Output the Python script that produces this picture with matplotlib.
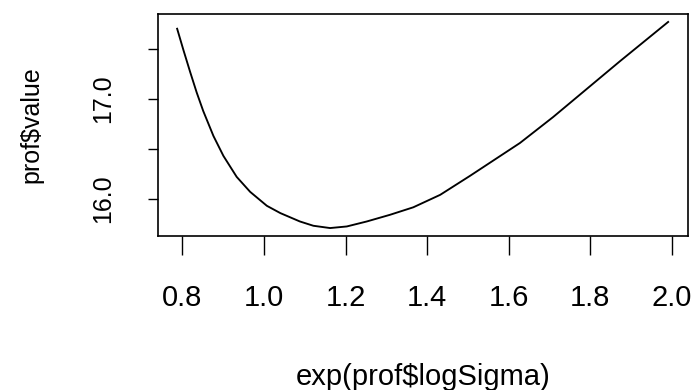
import matplotlib.pyplot as plt
import numpy as np

# profile curve (x = exp(logSigma), y = value)
sigma = [0.787, 0.8025, 0.819, 0.835, 0.851, 0.876, 0.9005, 0.933, 0.966,
         1.007, 1.04, 1.088, 1.121, 1.162, 1.203, 1.252, 1.309, 1.366,
         1.432, 1.505, 1.6277, 1.709, 1.791, 1.873, 1.991]
value = [17.705, 17.49, 17.27, 17.065, 16.88, 16.63, 16.43, 16.22, 16.07,
         15.93, 15.857, 15.773, 15.73, 15.707, 15.723, 15.773, 15.84, 15.915,
         16.04, 16.23, 16.56, 16.82, 17.10, 17.38, 17.773]

x_ticks = [0.8, 1.0, 1.2, 1.4, 1.6, 1.8, 2.0]
y_ticks = [16.0, 16.5, 17.0, 17.5]
y_ticklabels = ['16.0', '', '17.0', '']

plt.rcParams['font.family'] = ['Liberation Sans', 'DejaVu Sans']

fig = plt.figure(figsize=(6.96, 3.9), dpi=100)
ax = fig.add_axes([157.5 / 696, (390 - 236.3) / 390, (687.8 - 157.5) / 696, (236.3 - 13.7) / 390])

ax.plot(sigma, value, color='black', linewidth=1.35)

# R-style 4% padding on both axes
xr = max(sigma) - min(sigma)
yr = max(value) - min(value)
ax.set_xlim(min(sigma) - 0.04 * xr, max(sigma) + 0.04 * xr)
ax.set_ylim(min(value) - 0.04 * yr, max(value) + 0.04 * yr)

ax.set_xticks(x_ticks)
ax.set_xticklabels([f"{t:.1f}" for t in x_ticks])
ax.set_yticks(y_ticks)
ax.set_yticklabels(y_ticklabels, rotation=90, va='center')

ax.tick_params(axis='x', length=14, width=1.0, pad=20, labelsize=21)
ax.tick_params(axis='y', length=7.5, width=1.0, pad=23, labelsize=18)

for s in ax.spines.values():
    s.set_linewidth(1.2)

ax.set_xlabel('exp(prof$logSigma)', fontsize=21, va='center')
ax.xaxis.set_label_coords(0.5, -0.632)
ax.set_ylabel('prof$value', fontsize=18, va='center')
ax.yaxis.set_label_coords(-0.2385, 0.5)

fig.savefig('out.png', dpi=100)
